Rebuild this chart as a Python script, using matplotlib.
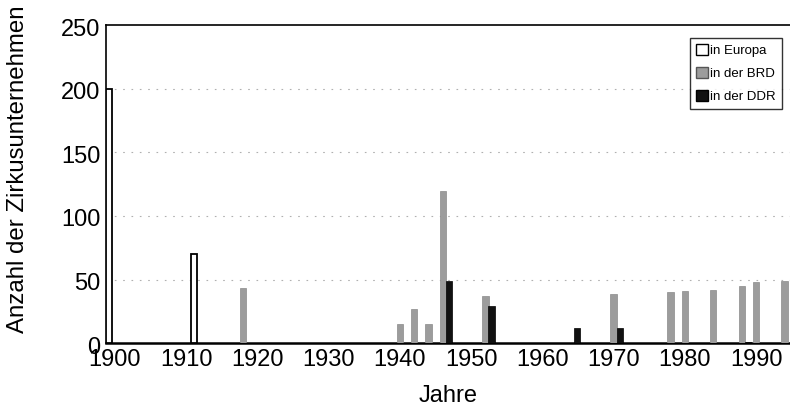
import matplotlib
matplotlib.use("Agg")
import matplotlib.pyplot as plt
from matplotlib.patches import Patch
import matplotlib.transforms as mtransforms
import numpy as np

plt.rcParams['font.family'] = ['Liberation Sans', 'DejaVu Sans']

# Data
europa_years = [1900, 1912]
europa_vals = [200, 70]

brd_years = [1918, 1940, 1942, 1944, 1946, 1952, 1970, 1978, 1980, 1984, 1988, 1990, 1994]
brd_vals = [43, 15, 27, 15, 120, 37, 39, 40, 41, 42, 45, 48, 49]

ddr_years = [1946, 1952, 1964, 1970, 1988]
ddr_vals = [49, 29, 12, 12, 1]

xticks = [1900, 1910, 1920, 1930, 1940, 1950, 1960, 1970, 1980, 1990]
yticks = [0, 50, 100, 150, 200, 250]

labels = ["in Europa", "in der BRD", "in der DDR"]

fig = plt.figure(figsize=(7.9, 4.2), dpi=100)
ax = fig.add_axes([0.134, 0.183, 0.866, 0.757])

w = 0.88
off = 0.86
ax.bar(np.array(europa_years) - off, europa_vals, width=w, color='white',
       edgecolor='black', linewidth=1.3, zorder=3)
ax.bar(np.array(brd_years), brd_vals, width=w, color='#9c9c9c',
       edgecolor='#8a8a8a', linewidth=0.5, zorder=3)
ax.bar(np.array(ddr_years) + off, ddr_vals, width=w, color='#111111',
       edgecolor='black', linewidth=0.5, zorder=3)

ax.set_xlim(1898.72, 1994.76)
ax.set_ylim(0, 250)
ax.set_xticks(xticks)
ax.set_yticks(yticks)
ax.tick_params(axis='both', length=0, labelsize=17, pad=4)

# shift y tick labels slightly downward as in the reference
shift = mtransforms.ScaledTranslation(0, -2 / 100, fig.dpi_scale_trans)
for lab in ax.get_yticklabels():
    lab.set_transform(lab.get_transform() + shift)

for y in [50, 100, 150, 200]:
    ax.axhline(y, color='#b0b0b0', linewidth=0.8, linestyle=(0, (1.5, 6)), zorder=1)

ax.spines['right'].set_visible(False)
ax.spines['top'].set_linewidth(1.2)
ax.spines['left'].set_linewidth(1.2)
ax.spines['bottom'].set_linewidth(1.8)

ax.set_xlabel("Jahre", fontsize=17, labelpad=10)
ax.set_ylabel("Anzahl der Zirkusunternehmen", fontsize=17.3)
ax.yaxis.set_label_coords(-0.112, 0.546)

handles = [Patch(facecolor='white', edgecolor='black'),
           Patch(facecolor='#9c9c9c', edgecolor='#555555'),
           Patch(facecolor='#111111', edgecolor='black')]
leg = ax.legend(handles, labels, loc='upper right', bbox_to_anchor=(0.988, 0.96),
                fontsize=9.5, frameon=True, fancybox=False, edgecolor='black',
                handlelength=0.9, handleheight=0.9, handletextpad=0.15,
                borderpad=0.45, labelspacing=0.75, borderaxespad=0)
leg.get_frame().set_linewidth(1.0)

fig.savefig("out.png", dpi=100)
